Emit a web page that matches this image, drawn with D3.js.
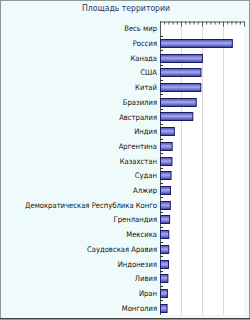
<!DOCTYPE html>
<html>
<head>
<meta charset="utf-8">
<script src="https://cdn.jsdelivr.net/npm/d3@7"></script>
<style>
  body { margin: 0; background: #fff; }
  svg { display: block; }
</style>
</head>
<body>
<svg id="chart" width="250" height="320"></svg>
<script>
// Площадь территории, млн км²
const countries = ["Весь мир", "Россия", "Канада", "США", "Китай", "Бразилия", "Австралия",
  "Индия", "Аргентина", "Казахстан", "Судан", "Алжир", "Демократическая Республика Конго",
  "Гренландия", "Мексика", "Саудовская Аравия", "Индонезия", "Ливия", "Иран", "Монголия"];
const areas = [null, 17.1, 9.98, 9.63, 9.6, 8.51, 7.69, 3.29, 2.78, 2.72, 2.51, 2.38, 2.34,
  2.17, 1.96, 1.96, 1.9, 1.76, 1.65, 1.56];
const xTicks = [0, 5, 10, 15, 20];

const svg = d3.select("#chart");
const W = 250, H = 320;
const m = { top: 21, right: 6, bottom: 5, left: 160 };
const font = "DejaVu Sans Condensed, DejaVu Sans";

// fond + cadre
svg.append("rect").attr("x", 0.5).attr("y", 0.5).attr("width", W - 1).attr("height", H - 1)
  .attr("fill", "#effbfb").attr("stroke", "#8a9a9a");
svg.append("line").attr("x1", 0).attr("x2", W).attr("y1", H - 1.5).attr("y2", H - 1.5)
  .attr("stroke", "#444");

svg.append("text").attr("x", 126).attr("y", 11).attr("text-anchor", "middle")
  .attr("font-family", font).attr("font-size", 8.6).attr("fill", "#333366")
  .text("Площадь территории");

const x = d3.scaleLinear().domain([0, 20]).range([m.left, W - m.right]);
const y = d3.scaleBand().domain(countries).range([m.top, H - m.bottom]).paddingInner(0.45).paddingOuter(0.22);

const defs = svg.append("defs");
const grad = defs.append("linearGradient").attr("id", "barGrad").attr("x1", 0).attr("y1", 0).attr("x2", 0).attr("y2", 1);
grad.append("stop").attr("offset", "0%").attr("stop-color", "#4a4db8");
grad.append("stop").attr("offset", "45%").attr("stop-color", "#a6aaec");
grad.append("stop").attr("offset", "100%").attr("stop-color", "#3c3ea6");

svg.append("rect").attr("x", m.left).attr("y", m.top)
  .attr("width", x(20) - m.left).attr("height", H - m.bottom - m.top)
  .attr("fill", "#fff");

// grille
svg.append("g").selectAll("line").data(xTicks.slice(1, -1)).join("line")
  .attr("x1", d => Math.round(x(d)) + 0.5).attr("x2", d => Math.round(x(d)) + 0.5)
  .attr("y1", m.top).attr("y2", H - m.bottom)
  .attr("stroke", "#d8dcdc");

// axe du haut
const xAxis = d3.axisTop(x).tickValues(d3.range(0, 20.01, 1)).tickSize(-3).tickFormat("");
const gx = svg.append("g").attr("transform", `translate(0,${m.top + 0.5})`).call(xAxis);
gx.selectAll("line").attr("stroke", "#555").attr("y2", d => (d % 5 === 0 ? 5 : 3));
gx.select(".domain").attr("stroke", "#555");

// axe gauche
svg.append("line").attr("x1", m.left + 0.5).attr("x2", m.left + 0.5)
  .attr("y1", m.top).attr("y2", H - m.bottom).attr("stroke", "#555");
const step = y.step();
svg.append("g").selectAll("line").data(countries.slice(0, -1)).join("line")
  .attr("x1", m.left).attr("x2", m.left + 3)
  .attr("y1", d => Math.round(y(d) + y.bandwidth() + step * 0.45 / 2) + 0.5)
  .attr("y2", d => Math.round(y(d) + y.bandwidth() + step * 0.45 / 2) + 0.5)
  .attr("stroke", "#333");

svg.append("g").selectAll("text").data(countries).join("text")
  .attr("x", m.left - 3).attr("y", d => y(d) + y.bandwidth() / 2 + 3)
  .attr("text-anchor", "end")
  .attr("font-family", font).attr("font-size", 7.6).attr("fill", "#111")
  .text(d => d);

// barres
svg.append("g").selectAll("rect").data(countries.filter((c, i) => areas[i] != null)).join("rect")
  .attr("x", m.left + 0.5)
  .attr("y", d => Math.round(y(d)) + 0.5)
  .attr("width", d => x(areas[countries.indexOf(d)]) - m.left)
  .attr("height", Math.round(y.bandwidth()))
  .attr("fill", "url(#barGrad)").attr("stroke", "#1a1a66");
</script>
</body>
</html>
